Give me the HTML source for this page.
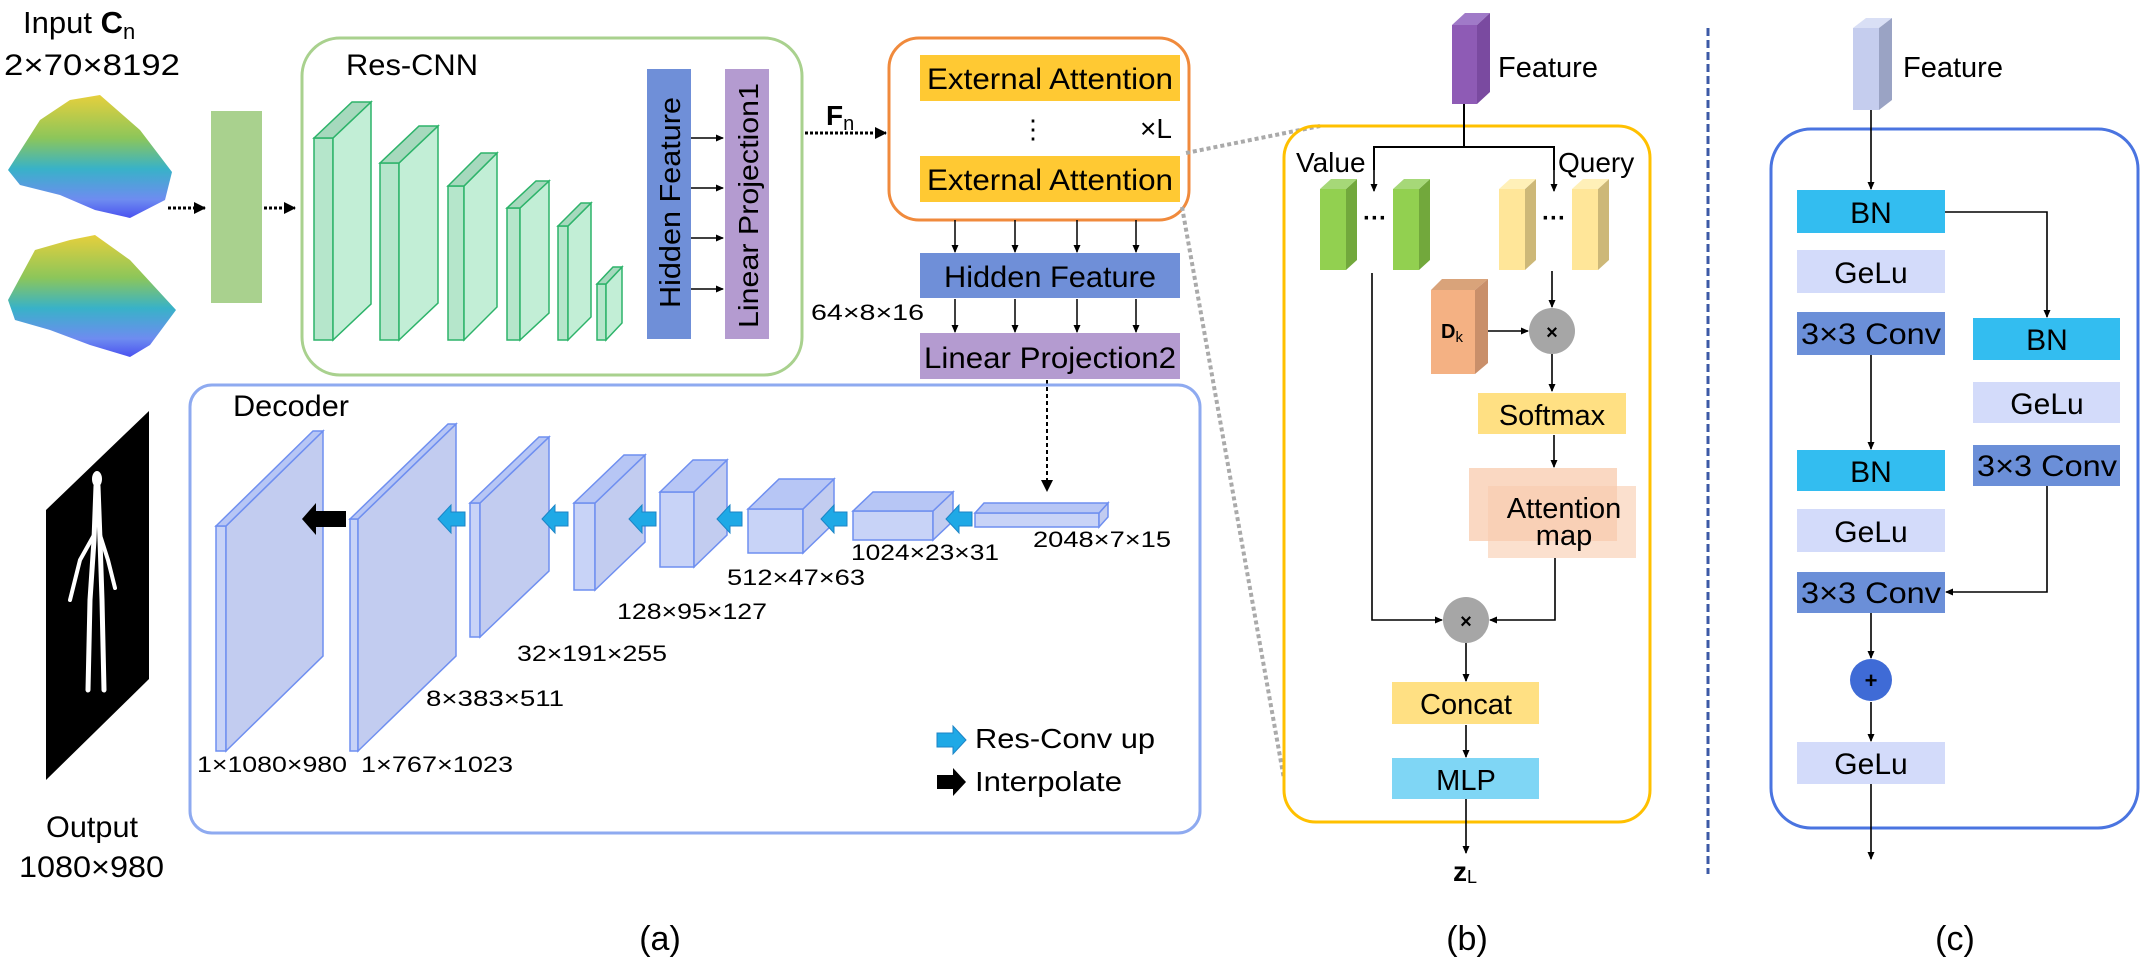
<!DOCTYPE html>
<html><head><meta charset="utf-8"><style>
html,body{margin:0;padding:0;background:#fff;}
svg{display:block;font-family:"Liberation Sans",Arial,sans-serif;}
</style></head><body>
<svg width="2140" height="962" viewBox="0 0 2140 962" xmlns="http://www.w3.org/2000/svg">
<defs>
<linearGradient id="surf" x1="0" y1="0" x2="0" y2="1">
<stop offset="0" stop-color="#e6cf3c"/><stop offset="0.35" stop-color="#8cc65a"/><stop offset="0.6" stop-color="#38b2c8"/><stop offset="0.85" stop-color="#6e8cf0"/><stop offset="1" stop-color="#4a52f0"/>
</linearGradient>
<marker id="ah" markerWidth="8" markerHeight="8" refX="7" refY="4" orient="auto" markerUnits="userSpaceOnUse"><path d="M0,0.5 L8,4 L0,7.5 z" fill="#000"/></marker>
<marker id="ahb" markerWidth="12" markerHeight="12" refX="11" refY="6" orient="auto" markerUnits="userSpaceOnUse"><path d="M0,0 L12,6 L0,12 z" fill="#000"/></marker>
</defs>

<!-- Input -->
<text x="23" y="33" font-size="31">Input <tspan font-weight="bold">C</tspan><tspan font-size="22" dy="6">n</tspan></text>
<text x="4" y="75" font-size="30" textLength="176" lengthAdjust="spacingAndGlyphs">2×70×8192</text>
<polygon points="8,170 40,120 70,100 100,95 140,130 172,172 165,200 130,218 95,210 60,195 20,185" fill="url(#surf)"/>
<polygon points="8,300 35,250 70,240 95,235 130,260 176,310 150,345 130,357 90,345 50,330 15,320" fill="url(#surf)"/>
<line x1="168" y1="208" x2="205" y2="208" stroke="#000" stroke-width="3" stroke-dasharray="3,2" marker-end="url(#ahb)"/>
<line x1="264" y1="208" x2="295" y2="208" stroke="#000" stroke-width="3" stroke-dasharray="3,2" marker-end="url(#ahb)"/>
<rect x="211" y="111" width="51" height="192" fill="#a9d18e"/>

<!-- Res-CNN -->
<rect x="302" y="38" width="500" height="337" rx="38" fill="none" stroke="#a9d18e" stroke-width="3"/>
<text x="346" y="75" font-size="30" textLength="132" lengthAdjust="spacingAndGlyphs">Res-CNN</text>
<g stroke="#2db36a" stroke-width="1.5" fill="#c2eed6">
<rect x="314" y="138" width="19" height="202" fill="#b5e6cb"/><polygon points="333,138 371,102 371,304 333,340"/><polygon points="314,138 352,102 371,102 333,138" fill="#a6d9bd"/>
<rect x="380" y="163" width="19" height="177" fill="#b5e6cb"/><polygon points="399,163 438,126 438,303 399,340"/><polygon points="380,163 419,126 438,126 399,163" fill="#a6d9bd"/>
<rect x="448" y="186" width="16" height="154" fill="#b5e6cb"/><polygon points="464,186 497,153 497,307 464,340"/><polygon points="448,186 481,153 497,153 464,186" fill="#a6d9bd"/>
<rect x="507" y="208" width="13" height="132" fill="#b5e6cb"/><polygon points="520,208 549,181 549,313 520,340"/><polygon points="507,208 536,181 549,181 520,208" fill="#a6d9bd"/>
<rect x="558" y="226" width="10" height="114" fill="#b5e6cb"/><polygon points="568,226 591,203 591,317 568,340"/><polygon points="558,226 581,203 591,203 568,226" fill="#a6d9bd"/>
<rect x="597" y="284" width="9" height="56" fill="#b5e6cb"/><polygon points="606,284 622,267 622,323 606,340"/><polygon points="597,284 613,267 622,267 606,284" fill="#a6d9bd"/>
</g>
<rect x="647" y="69" width="44" height="270" fill="#6f8fd8"/>
<text transform="translate(680,308) rotate(-90)" font-size="29" textLength="211" lengthAdjust="spacingAndGlyphs">Hidden Feature</text>
<rect x="725" y="69" width="44" height="270" fill="#b49bd0"/>
<text transform="translate(758,328) rotate(-90)" font-size="28" textLength="245" lengthAdjust="spacingAndGlyphs">Linear Projection1</text>
<g stroke="#000" stroke-width="1.5" marker-end="url(#ah)">
<line x1="691" y1="138" x2="723" y2="138"/><line x1="691" y1="188" x2="723" y2="188"/><line x1="691" y1="238" x2="723" y2="238"/><line x1="691" y1="289" x2="723" y2="289"/>
</g>
<text x="826" y="125" font-size="28" font-weight="bold">F<tspan font-size="20" font-weight="normal" dy="5">n</tspan></text>
<line x1="805" y1="133" x2="886" y2="133" stroke="#000" stroke-width="3" stroke-dasharray="3,2" marker-end="url(#ahb)"/>

<!-- External attention -->
<rect x="889" y="38" width="300" height="182" rx="30" fill="none" stroke="#f08a3c" stroke-width="3"/>
<rect x="920" y="55" width="260" height="46" fill="#ffc933"/>
<text x="1050" y="89" font-size="30" text-anchor="middle" textLength="246" lengthAdjust="spacingAndGlyphs">External Attention</text>
<rect x="920" y="156" width="260" height="46" fill="#ffc933"/>
<text x="1050" y="190" font-size="30" text-anchor="middle" textLength="246" lengthAdjust="spacingAndGlyphs">External Attention</text>
<text x="1033" y="138" font-size="26" text-anchor="middle">⋮</text>
<text x="1140" y="138" font-size="28">×L</text>
<g stroke="#000" stroke-width="1.5" marker-end="url(#ah)">
<line x1="955" y1="220" x2="955" y2="252"/><line x1="1015" y1="220" x2="1015" y2="252"/><line x1="1077" y1="220" x2="1077" y2="252"/><line x1="1136" y1="220" x2="1136" y2="252"/>
<line x1="955" y1="299" x2="955" y2="332"/><line x1="1015" y1="299" x2="1015" y2="332"/><line x1="1077" y1="299" x2="1077" y2="332"/><line x1="1136" y1="299" x2="1136" y2="332"/>
</g>
<rect x="920" y="253" width="260" height="45" fill="#6f8fd8"/>
<text x="1050" y="287" font-size="30" text-anchor="middle" textLength="212" lengthAdjust="spacingAndGlyphs">Hidden Feature</text>
<rect x="920" y="333" width="260" height="46" fill="#b49bd0"/>
<text x="1050" y="368" font-size="30" text-anchor="middle" textLength="252" lengthAdjust="spacingAndGlyphs">Linear Projection2</text>
<text x="811" y="320" font-size="22" textLength="113" lengthAdjust="spacingAndGlyphs">64×8×16</text>
<line x1="1047" y1="380" x2="1047" y2="491" stroke="#000" stroke-width="2" stroke-dasharray="4,3" marker-end="url(#ahb)"/>

<!-- Output -->
<polygon points="149,411 149,679 46,780 46,510" fill="#000"/>
<g stroke="#fff" stroke-linecap="round" fill="none">
<path d="M96,486 L94,540 L90,600 L88,690" stroke-width="5"/>
<path d="M98,486 L100,540 L102,600 L104,690" stroke-width="5"/>
<path d="M94,535 L80,560 L70,600" stroke-width="4"/>
<path d="M100,535 L108,560 L115,588" stroke-width="4"/>
</g>
<ellipse cx="97" cy="479" rx="5" ry="8" fill="#fff"/>
<text x="46" y="837" font-size="30" textLength="92" lengthAdjust="spacingAndGlyphs">Output</text>
<text x="19" y="877" font-size="30" textLength="145" lengthAdjust="spacingAndGlyphs">1080×980</text>

<!-- Decoder -->
<rect x="190" y="385" width="1010" height="448" rx="22" fill="none" stroke="#8eaaf0" stroke-width="3"/>
<text x="233" y="416" font-size="30" textLength="116" lengthAdjust="spacingAndGlyphs">Decoder</text>
<g stroke="#6f8ff0" stroke-width="1.5">
<g><rect x="216" y="526" width="10" height="225" fill="#c8d3f7"/><polygon points="226,526 323,431 323,656 226,751" fill="#c2ccf0"/><polygon points="216,526 313,431 323,431 226,526" fill="#b7c6f5"/></g>
<g><rect x="350" y="519" width="8" height="232" fill="#c8d3f7"/><polygon points="358,519 456,424 456,656 358,751" fill="#c2ccf0"/><polygon points="350,519 448,424 456,424 358,519" fill="#b7c6f5"/></g>
<g><rect x="470" y="503" width="10" height="134" fill="#c8d3f7"/><polygon points="480,503 549,437 549,571 480,637" fill="#c2ccf0"/><polygon points="470,503 539,437 549,437 480,503" fill="#b7c6f5"/></g>
<g><rect x="574" y="503" width="21" height="87" fill="#c8d3f7"/><polygon points="595,503 645,455 645,542 595,590" fill="#c2ccf0"/><polygon points="574,503 624,455 645,455 595,503" fill="#b7c6f5"/></g>
<g><rect x="660" y="492" width="34" height="75" fill="#c8d3f7"/><polygon points="694,492 727,460 727,535 694,567" fill="#c2ccf0"/><polygon points="660,492 693,460 727,460 694,492" fill="#b7c6f5"/></g>
<g><rect x="748" y="509" width="55" height="44" fill="#c8d3f7"/><polygon points="803,509 834,479 834,523 803,553" fill="#c2ccf0"/><polygon points="748,509 779,479 834,479 803,509" fill="#b7c6f5"/></g>
<g><rect x="853" y="511" width="80" height="29" fill="#c8d3f7"/><polygon points="933,511 953,492 953,521 933,540" fill="#c2ccf0"/><polygon points="853,511 873,492 953,492 933,511" fill="#b7c6f5"/></g>
<g><rect x="975" y="513" width="124" height="14" fill="#c8d3f7"/><polygon points="1099,513 1108,503 1108,517 1099,527" fill="#c2ccf0"/><polygon points="975,513 984,503 1108,503 1099,513" fill="#b7c6f5"/></g>
</g>
<g fill="#1fa9e6" stroke="#1c84c6" stroke-width="1">
<polygon points="438,519 451,505 451,512 465,512 465,526 451,526 451,533"/>
<polygon points="542,519 555,505 555,512 568,512 568,526 555,526 555,533"/>
<polygon points="629,519 642,505 642,512 656,512 656,526 642,526 642,533"/>
<polygon points="717,519 730,505 730,512 742,512 742,526 730,526 730,533"/>
<polygon points="821,519 834,505 834,512 847,512 847,526 834,526 834,533"/>
<polygon points="946,519 959,505 959,512 972,512 972,526 959,526 959,533"/>
<polygon points="966,740 953,726 953,733 937,733 937,747 953,747 953,754"/>
</g>
<polygon points="302,519 316,503 316,511 346,511 346,527 316,527 316,535" fill="#000"/>
<polygon points="966,782 953,768 953,775 937,775 937,789 953,789 953,796" fill="#000"/>
<g font-size="22">
<text x="1033" y="547" textLength="138" lengthAdjust="spacingAndGlyphs">2048×7×15</text>
<text x="851" y="560" textLength="148" lengthAdjust="spacingAndGlyphs">1024×23×31</text>
<text x="727" y="585" textLength="138" lengthAdjust="spacingAndGlyphs">512×47×63</text>
<text x="617" y="619" textLength="150" lengthAdjust="spacingAndGlyphs">128×95×127</text>
<text x="517" y="661" textLength="150" lengthAdjust="spacingAndGlyphs">32×191×255</text>
<text x="426" y="706" textLength="138" lengthAdjust="spacingAndGlyphs">8×383×511</text>
<text x="197" y="772" textLength="150" lengthAdjust="spacingAndGlyphs">1×1080×980</text>
<text x="361" y="772" textLength="152" lengthAdjust="spacingAndGlyphs">1×767×1023</text>
</g>
<text x="975" y="748" font-size="28" textLength="180" lengthAdjust="spacingAndGlyphs">Res-Conv up</text>
<text x="975" y="791" font-size="28" textLength="147" lengthAdjust="spacingAndGlyphs">Interpolate</text>
<text x="660" y="950" font-size="34" text-anchor="middle">(a)</text>

<!-- dotted connection lines -->
<line x1="1186" y1="153" x2="1320" y2="126" stroke="#aaa" stroke-width="4" stroke-dasharray="4,3"/>
<line x1="1182" y1="207" x2="1284" y2="779" stroke="#aaa" stroke-width="4" stroke-dasharray="4,3"/>

<!-- (b) -->
<rect x="1284" y="126" width="366" height="696" rx="32" fill="none" stroke="#ffc000" stroke-width="3"/>
<polygon points="1452,25 1465,13 1490,13 1477,25" fill="#a07ac8"/>
<rect x="1452" y="25" width="25" height="79" fill="#8e5bb5"/>
<polygon points="1477,25 1490,13 1490,92 1477,104" fill="#7a4aa0"/>
<text x="1498" y="77" font-size="29">Feature</text>
<g stroke="#000" stroke-width="2" fill="none">
<line x1="1464" y1="104" x2="1464" y2="147"/>
<polyline points="1374,170 1374,147 1554,147 1554,170"/>
</g>
<g stroke="#000" stroke-width="1.6" marker-end="url(#ah)">
<line x1="1374" y1="168" x2="1374" y2="191"/><line x1="1554" y1="168" x2="1554" y2="191"/>
</g>
<text x="1296" y="172" font-size="28">Value</text>
<text x="1558" y="172" font-size="28">Query</text>
<g>
<rect x="1320" y="189" width="26" height="81" fill="#92d050"/><polygon points="1346,189 1357,179 1357,260 1346,270" fill="#72a83c"/><polygon points="1320,189 1331,179 1357,179 1346,189" fill="#a6d878"/>
<rect x="1393" y="189" width="26" height="81" fill="#92d050"/><polygon points="1419,189 1430,179 1430,260 1419,270" fill="#72a83c"/><polygon points="1393,189 1404,179 1430,179 1419,189" fill="#a6d878"/>
<rect x="1499" y="189" width="26" height="81" fill="#ffe699"/><polygon points="1525,189 1536,179 1536,260 1525,270" fill="#cdb878"/><polygon points="1499,189 1510,179 1536,179 1525,189" fill="#fff0b8"/>
<rect x="1572" y="189" width="26" height="81" fill="#ffe699"/><polygon points="1598,189 1609,179 1609,260 1598,270" fill="#cdb878"/><polygon points="1572,189 1583,179 1609,179 1598,189" fill="#fff0b8"/>
</g>
<text x="1375" y="226" font-size="24" font-weight="bold" text-anchor="middle">···</text>
<text x="1554" y="226" font-size="24" font-weight="bold" text-anchor="middle">···</text>
<polygon points="1431,290 1442,279 1488,279 1475,290" fill="#d9a37a"/>
<rect x="1431" y="290" width="44" height="84" fill="#f4b183"/>
<polygon points="1475,290 1488,279 1488,363 1475,374" fill="#c98f6a"/>
<text x="1441" y="338" font-size="20" font-weight="bold">D<tspan font-size="15" font-weight="normal" dy="4">k</tspan></text>
<g stroke="#000" stroke-width="1.6" fill="none">
<line x1="1552" y1="271" x2="1552" y2="307" marker-end="url(#ah)"/>
<line x1="1488" y1="331" x2="1528" y2="331" marker-end="url(#ah)"/>
<line x1="1552" y1="354" x2="1552" y2="391" marker-end="url(#ah)"/>
<line x1="1554" y1="435" x2="1554" y2="467" marker-end="url(#ah)"/>
<polyline points="1372,273 1372,620 1442,620" marker-end="url(#ah)"/>
<polyline points="1555,558 1555,620 1490,620" marker-end="url(#ah)"/>
<line x1="1466" y1="643" x2="1466" y2="681" marker-end="url(#ah)"/>
<line x1="1466" y1="725" x2="1466" y2="757" marker-end="url(#ah)"/>
<line x1="1466" y1="799" x2="1466" y2="853" marker-end="url(#ah)"/>
</g>
<circle cx="1552" cy="331" r="23" fill="#a6a6a6"/>
<text x="1552" y="339" font-size="20" font-weight="bold" text-anchor="middle">×</text>
<rect x="1478" y="393" width="148" height="41" fill="#ffe083"/>
<text x="1552" y="425" font-size="29" text-anchor="middle">Softmax</text>
<rect x="1469" y="468" width="148" height="73" fill="#f8cbad" opacity="0.75"/>
<rect x="1488" y="486" width="148" height="72" fill="#f8cbad" opacity="0.6"/>
<text x="1564" y="518" font-size="29" text-anchor="middle">Attention</text>
<text x="1564" y="545" font-size="29" text-anchor="middle">map</text>
<circle cx="1466" cy="620" r="23" fill="#a6a6a6"/>
<text x="1466" y="628" font-size="20" font-weight="bold" text-anchor="middle">×</text>
<rect x="1392" y="682" width="147" height="42" fill="#ffe083"/>
<text x="1466" y="714" font-size="29" text-anchor="middle">Concat</text>
<rect x="1392" y="758" width="147" height="41" fill="#7fd6f5"/>
<text x="1466" y="790" font-size="29" text-anchor="middle">MLP</text>
<text x="1453" y="881" font-size="28" font-weight="bold">z<tspan font-size="18" font-weight="normal" dy="2">L</tspan></text>
<text x="1467" y="950" font-size="34" text-anchor="middle">(b)</text>

<!-- divider -->
<line x1="1708" y1="28" x2="1708" y2="874" stroke="#3c5aa6" stroke-width="3" stroke-dasharray="8,4"/>

<!-- (c) -->
<polygon points="1853,28 1866,18 1892,18 1879,28" fill="#d9dff5"/>
<rect x="1853" y="28" width="26" height="82" fill="#c5cdee"/>
<polygon points="1879,28 1892,18 1892,100 1879,110" fill="#9aa3c4"/>
<text x="1903" y="77" font-size="29">Feature</text>
<rect x="1771" y="129" width="367" height="699" rx="40" fill="none" stroke="#4a74e0" stroke-width="3"/>
<g font-size="30" text-anchor="middle">
<rect x="1797" y="190" width="148" height="43" fill="#33bdf0"/><text x="1871" y="223">BN</text>
<rect x="1797" y="250" width="148" height="43" fill="#d3dbfa"/><text x="1871" y="283">GeLu</text>
<rect x="1797" y="312" width="148" height="43" fill="#6b8fd8"/><text x="1871" y="344" textLength="140" lengthAdjust="spacingAndGlyphs">3×3 Conv</text>
<rect x="1797" y="450" width="148" height="41" fill="#33bdf0"/><text x="1871" y="482">BN</text>
<rect x="1797" y="509" width="148" height="43" fill="#d3dbfa"/><text x="1871" y="542">GeLu</text>
<rect x="1797" y="572" width="148" height="41" fill="#6b8fd8"/><text x="1871" y="603" textLength="140" lengthAdjust="spacingAndGlyphs">3×3 Conv</text>
<rect x="1797" y="742" width="148" height="42" fill="#d3dbfa"/><text x="1871" y="774">GeLu</text>
<rect x="1973" y="318" width="147" height="42" fill="#33bdf0"/><text x="2047" y="350">BN</text>
<rect x="1973" y="382" width="147" height="41" fill="#d3dbfa"/><text x="2047" y="414">GeLu</text>
<rect x="1973" y="445" width="147" height="41" fill="#6b8fd8"/><text x="2047" y="476" textLength="140" lengthAdjust="spacingAndGlyphs">3×3 Conv</text>
</g>
<g stroke="#000" stroke-width="1.6" fill="none">
<line x1="1871" y1="110" x2="1871" y2="189" marker-end="url(#ah)"/>
<line x1="1871" y1="355" x2="1871" y2="449" marker-end="url(#ah)"/>
<line x1="1871" y1="613" x2="1871" y2="658" marker-end="url(#ah)"/>
<line x1="1871" y1="702" x2="1871" y2="741" marker-end="url(#ah)"/>
<line x1="1871" y1="784" x2="1871" y2="859" marker-end="url(#ah)"/>
<polyline points="1945,212 2047,212 2047,317" marker-end="url(#ah)"/>
<polyline points="2047,486 2047,592 1946,592" marker-end="url(#ah)"/>
</g>
<circle cx="1871" cy="680" r="21" fill="#3f6bd6"/>
<text x="1871" y="688" font-size="22" font-weight="bold" text-anchor="middle">+</text>
<text x="1955" y="950" font-size="34" text-anchor="middle">(c)</text>
</svg>
</body></html>
